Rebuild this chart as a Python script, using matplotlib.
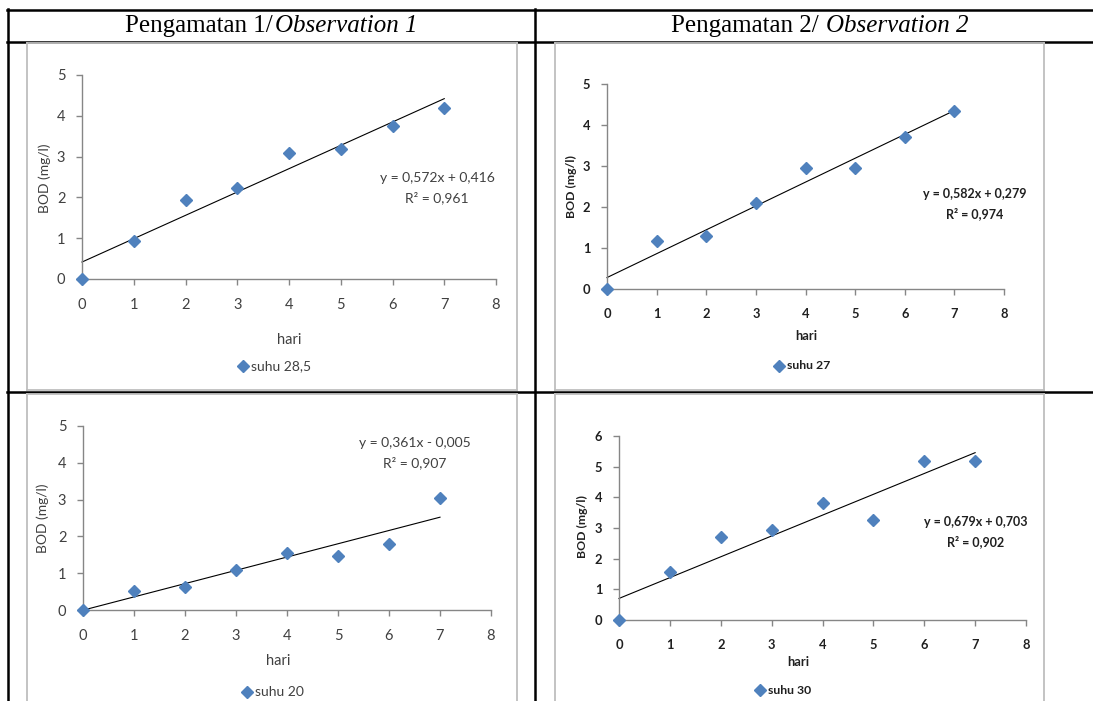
import matplotlib.pyplot as plt
from matplotlib.lines import Line2D

# --- data ---
hari = [0, 1, 2, 3, 4, 5, 6, 7]

bod_285 = [0, 0.93, 1.93, 2.24, 3.10, 3.19, 3.76, 4.18]
bod_27 = [0, 1.16, 1.30, 2.09, 2.94, 2.94, 3.71, 4.33]
bod_20 = [0, 0.52, 0.62, 1.09, 1.54, 1.47, 1.78, 3.03]
bod_30 = [0, 1.56, 2.72, 2.95, 3.81, 3.26, 5.20, 5.20]

# trendline coefficients (slope, intercept) as printed
fit_285 = (0.572, 0.416)
fit_27 = (0.582, 0.279)
fit_20 = (0.361, -0.005)
fit_30 = (0.679, 0.703)

eq_285 = ["y = 0,572x + 0,416", "R² = 0,961"]
eq_27 = ["y = 0,582x + 0,279", "R² = 0,974"]
eq_20 = ["y = 0,361x - 0,005", "R² = 0,907"]
eq_30 = ["y = 0,679x + 0,703", "R² = 0,902"]

legend_names = ["suhu 28,5", "suhu 27", "suhu 20", "suhu 30"]
header_reg = ["Pengamatan 1/", "Pengamatan 2/"]
header_it = ["Observation 1", "Observation 2"]

W, H = 1093, 701
fig = plt.figure(figsize=(W / 100, H / 100), dpi=100)
fig.patch.set_facecolor("white")


def fx(px):
    return px / W


def fy(py):
    return 1 - py / H


def hline(x0, x1, y, color="black", lw=1.8):
    fig.add_artist(Line2D([fx(x0), fx(x1)], [fy(y), fy(y)], color=color, lw=lw,
                          transform=fig.transFigure))


def vline(x, y0, y1, color="black", lw=1.8):
    fig.add_artist(Line2D([fx(x), fx(x)], [fy(y0), fy(y1)], color=color, lw=lw,
                          transform=fig.transFigure))


# table lines
hline(7, W, 10)
hline(7, W, 42)
hline(7, W, 392)
vline(8, 9, H)
vline(535, 9, H)

# chart area frames (grey)
frame_c = "#BEBEBE"
for (x0, x1, y0, y1) in [(27, 517, 43, 390), (555, 1044, 43, 390),
                         (27, 517, 394, H + 5), (555, 1044, 394, H + 5)]:
    hline(x0, x1, y0, frame_c, 1.3)
    hline(x0, x1, y1, frame_c, 1.3)
    vline(x0, y0, y1, frame_c, 1.3)
    vline(x1, y0, y1, frame_c, 1.3)

# header
for xr, xi, reg, it in [(273, 275, header_reg[0], header_it[0]),
                        (819, 826, header_reg[1], header_it[1])]:
    fig.text(fx(xr), fy(26), reg, ha="right", va="center",
             family="Liberation Serif", fontsize=18)
    fig.text(fx(xi), fy(26), it, ha="left", va="center",
             family="Liberation Serif", fontsize=18, style="italic")

blue = "#4F81BD"
axis_c = "#868686"

panels = [
    # data, fit, eq, legend, axes box (l, r, top, bottom px), ymax, font props,
    # ylabel pos, hari pos, eq pos, legend pos
    dict(y=bod_285, fit=fit_285, eq=eq_285, name=legend_names[0],
         box=(82, 496, 75, 279), ymax=5, weight="normal", fs=10.5, efs=10,
         tc="#404040", ylab=(45, 178), xlab=(289, 340), eqp=(437, 178),
         leg=(243, 366)),
    dict(y=bod_27, fit=fit_27, eq=eq_27, name=legend_names[1],
         box=(607, 1004, 84, 289), ymax=5, weight="bold", fs=9.3, efs=9,
         tc="#202020", ylab=(571, 187), xlab=(806, 336), eqp=(975, 194),
         leg=(779, 366)),
    dict(y=bod_20, fit=fit_20, eq=eq_20, name=legend_names[2],
         box=(83, 491, 426, 610), ymax=5, weight="normal", fs=10.5, efs=10,
         tc="#404040", ylab=(43, 518), xlab=(278, 661), eqp=(415, 443),
         leg=(247, 692)),
    dict(y=bod_30, fit=fit_30, eq=eq_30, name=legend_names[3],
         box=(619, 1026, 436, 620), ymax=6, weight="bold", fs=9.3, efs=9,
         tc="#202020", ylab=(582, 527), xlab=(798, 662), eqp=(976, 522),
         leg=(760, 690)),
]

for p in panels:
    l, r, t, b = p["box"]
    ax = fig.add_axes([fx(l), fy(b), (r - l) / W, (b - t) / H])
    ax.set_xlim(0, 8)
    ax.set_ylim(0, p["ymax"])
    ax.set_xticks(range(0, 9))
    ax.set_yticks(range(0, p["ymax"] + 1))
    for s in ["top", "right"]:
        ax.spines[s].set_visible(False)
    for s in ["left", "bottom"]:
        ax.spines[s].set_color(axis_c)
        ax.spines[s].set_linewidth(1)
    ax.tick_params(direction="out", length=4, width=1, color=axis_c,
                   labelsize=p["fs"], labelcolor=p["tc"], pad=6)
    for lab in ax.get_xticklabels() + ax.get_yticklabels():
        lab.set_family("Lato")
        lab.set_fontweight(p["weight"])
    ax.tick_params(axis="x", pad=10)
    ax.tick_params(axis="y", pad=8)

    m, c = p["fit"]
    ax.plot([hari[0], hari[-1]], [m * hari[0] + c, m * hari[-1] + c],
            color="black", lw=0.8, clip_on=False, zorder=2)
    ax.plot(hari, p["y"], linestyle="none", marker="D", markersize=6.5,
            color=blue, markeredgecolor=blue, clip_on=False, zorder=3)
    ax.patch.set_alpha(0)

    fig.text(fx(p["ylab"][0]), fy(p["ylab"][1]), "BOD (mg/l)", rotation=90,
             ha="center", va="center", family="Lato", fontsize=p["fs"] - 0.5,
             weight=p["weight"], color=p["tc"])
    fig.text(fx(p["xlab"][0]), fy(p["xlab"][1]), "hari", ha="center",
             va="center", family="Lato", fontsize=p["fs"], weight=p["weight"],
             color=p["tc"])
    ex, ey = p["eqp"]
    fig.text(fx(ex), fy(ey), p["eq"][0], ha="center", va="center",
             family="Lato", fontsize=p["efs"], weight=p["weight"], color=p["tc"])
    fig.text(fx(ex), fy(ey + 20), p["eq"][1], ha="center", va="center",
             family="Lato", fontsize=p["efs"], weight=p["weight"], color=p["tc"])
    lx, ly = p["leg"]
    fig.add_artist(Line2D([fx(lx)], [fy(ly)], marker="D", markersize=6,
                          color=blue, linestyle="none", transform=fig.transFigure))
    fig.text(fx(lx + 8), fy(ly), p["name"], ha="left", va="center",
             family="Lato", fontsize=p["fs"] - 0.5, weight=p["weight"],
             color=p["tc"])

fig.savefig("out.png", dpi=100, facecolor="white")
